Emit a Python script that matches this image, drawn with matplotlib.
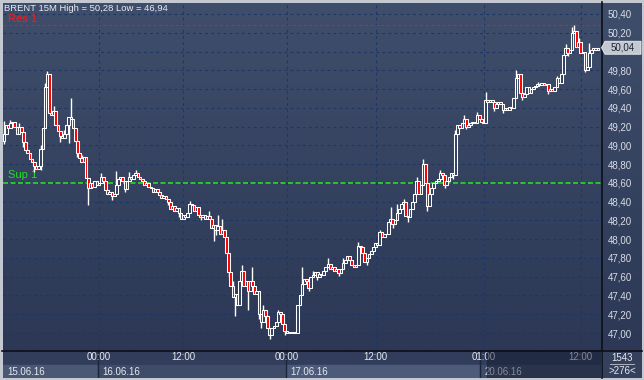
import matplotlib
matplotlib.use('Agg')
import matplotlib.pyplot as plt
import numpy as np
from matplotlib.patches import Rectangle, Polygon
from matplotlib.lines import Line2D

# ------------------------------------------------ data ------------------------------------------------
symbol = 'BRENT 15M'
high_label = '50,28'
low_label = '46,94'
res_level = 50.28
sup_level = 48.60
last_price = 50.04
first_open = 49.05

closes = [
    49.12, 49.22, 49.18, 49.24, 49.25, 49.20, 49.12, 49.20, 49.14, 49.04,
    48.95, 48.92, 48.85, 48.82, 48.78, 48.75, 48.78, 48.96, 49.18, 49.62,
    49.76, 49.35, 49.32, 49.37, 49.22, 49.15, 49.10, 49.08, 49.12, 49.22,
    49.30, 49.28, 49.18, 49.05, 48.92, 48.86, 48.82, 48.88, 48.65, 48.55,
    48.60, 48.56, 48.62, 48.58, 48.60, 48.66, 48.62, 48.52, 48.48, 48.50,
    48.46, 48.48, 48.58, 48.64, 48.66, 48.62, 48.54, 48.62, 48.66, 48.64,
    48.68, 48.70, 48.66, 48.64, 48.62, 48.58, 48.60, 48.56, 48.55, 48.50,
    48.53, 48.50, 48.47, 48.44, 48.46, 48.43, 48.40, 48.32, 48.35, 48.30,
    48.33, 48.28, 48.22, 48.26, 48.24, 48.28, 48.38, 48.36, 48.30, 48.34,
    48.26, 48.24, 48.26, 48.22, 48.25, 48.22, 48.12, 48.15, 48.10, 48.14,
    48.05, 48.10, 48.02, 47.85, 47.65, 47.50, 47.38, 47.42, 47.30, 47.55,
    47.66, 47.50, 47.55, 47.45, 47.55, 47.50, 47.42, 47.45, 47.20, 47.12,
    47.25, 47.18, 47.05, 46.98, 47.05, 47.08, 47.12, 47.22, 47.20, 47.10,
    47.02, 47.00, 47.01, 47.00, 47.01, 47.00, 47.30, 47.40, 47.52, 47.58,
    47.55, 47.48, 47.60, 47.62, 47.65, 47.60, 47.63, 47.62, 47.66, 47.70,
    47.74, 47.68, 47.70, 47.66, 47.68, 47.64, 47.68, 47.75, 47.78, 47.82,
    47.78, 47.72, 47.70, 47.72, 47.93, 47.92, 47.85, 47.76, 47.80, 47.84,
    47.87, 47.92, 47.96, 47.94, 48.08, 48.02, 48.06, 48.05, 48.18, 48.22,
    48.16, 48.20, 48.28, 48.32, 48.38, 48.40, 48.25, 48.24, 48.32, 48.40,
    48.48, 48.62, 48.48, 48.58, 48.80, 48.60, 48.35, 48.48, 48.55, 48.60,
    48.62, 48.64, 48.70, 48.68, 48.58, 48.62, 48.66, 48.70, 48.68, 49.12,
    49.22, 49.18, 49.24, 49.28, 49.20, 49.22, 49.24, 49.25, 49.24, 49.32,
    49.28, 49.25, 49.24, 49.48, 49.46, 49.48, 49.46, 49.40, 49.44, 49.46,
    49.44, 49.38, 49.40, 49.38, 49.41, 49.40, 49.50, 49.72, 49.76, 49.56,
    49.52, 49.55, 49.62, 49.56, 49.60, 49.62, 49.63, 49.65, 49.64, 49.66,
    49.64, 49.65, 49.58, 49.60, 49.58, 49.62, 49.72, 49.66, 49.76, 49.96,
    50.04, 49.98, 50.02, 50.20, 50.22, 50.05, 50.10, 49.98, 50.00, 49.80,
    49.84, 49.98, 50.02, 50.04, 50.02, 50.04,
]

# explicit wick extremes (bar index -> price)
wick_highs = {0: 49.26, 3: 49.27, 7: 49.24, 17: 49.00, 19: 49.66, 20: 49.79, 23: 49.42,
              28: 49.16, 31: 49.50, 36: 48.90, 45: 48.70, 52: 48.73, 58: 48.72, 61: 48.74,
              86: 48.41, 95: 48.30, 99: 48.26, 101: 48.22, 106: 47.55, 110: 47.72, 115: 47.70,
              120: 47.30, 127: 47.25, 138: 47.70, 143: 47.66, 150: 47.80, 157: 47.80,
              164: 47.97, 174: 48.10, 179: 48.34, 182: 48.38, 185: 48.43, 191: 48.66,
              194: 48.85, 202: 48.74, 209: 49.16, 213: 49.32, 219: 49.36, 223: 49.57,
              237: 49.80, 247: 49.68, 256: 49.74, 260: 50.08, 263: 50.26, 264: 50.28,
              266: 50.14, 271: 50.09}
wick_lows = {0: 49.01, 9: 48.98, 14: 48.72, 17: 48.74, 26: 49.04, 30: 49.03, 34: 48.88,
             39: 48.36, 50: 48.42, 56: 48.50, 76: 48.36, 81: 48.24, 91: 48.20, 97: 47.98,
             98: 48.04, 104: 47.60, 107: 47.18, 113: 47.25, 118: 47.15, 119: 47.05,
             123: 46.94, 130: 46.98, 141: 47.45, 145: 47.57, 155: 47.61, 168: 47.72,
             180: 48.12, 187: 48.18, 196: 48.30, 204: 48.55, 208: 48.64, 214: 49.17,
             227: 49.37, 231: 49.35, 240: 49.48, 252: 49.55, 261: 49.95, 269: 49.78,
             270: 49.80}

price_ticks = [47.00, 47.20, 47.40, 47.60, 47.80, 48.00, 48.20, 48.40, 48.60,
               48.80, 49.00, 49.20, 49.40, 49.60, 49.80, 50.00, 50.20, 50.40]
time_tick_bars = [44, 83, 131, 172, 222, 267]
time_tick_labels = ['00:00', '12:00', '00:00', '12:00', '01:00', '12:00']
day_start_bars = [0, 44, 131, 221]
day_labels = ['15.06.16', '16.06.16', '17.06.16', '20.06.16']
bars_total = '1543'
bars_visible = '>276<'

# ------------------------------------------------ build OHLC ------------------------------------------------
closes = np.array(closes)
n = len(closes)
x = np.arange(n)
opens = np.concatenate([[first_open], closes[:-1]])
highs = np.maximum(opens, closes)
lows = np.minimum(opens, closes)
for k, v in wick_highs.items():
    highs[k] = max(highs[k], v)
for k, v in wick_lows.items():
    lows[k] = min(lows[k], v)

W, H = 644, 380
def fx(px):
    return px / W
def fy(py):
    return 1 - py / H

fig = plt.figure(figsize=(6.44, 3.80), dpi=100)
fig.patch.set_facecolor('#c4c8d0')
font = 'Liberation Sans'

bg_top = np.array([63, 78, 107]) / 255
bg_bot = np.array([44, 56, 85]) / 255
grad = np.linspace(0, 1, 256)[:, None, None]
grad_img = bg_top * (1 - grad) + bg_bot * grad

# right price panel background
ax_r = fig.add_axes([fx(601), fy(350), fx(642) - fx(601), fy(3) - fy(350)])
ax_r.imshow(grad_img, aspect='auto', extent=[0, 1, 0, 1], transform=ax_r.transAxes)
ax_r.set_axis_off()
ax_r.set_zorder(1)

# main chart
ax = fig.add_axes([fx(3), fy(350), fx(601) - fx(3), fy(3) - fy(350)])
ax.set_zorder(2)
ax.patch.set_visible(False)
ax.imshow(grad_img, aspect='auto', extent=[0, 1, 0, 1], transform=ax.transAxes, zorder=0)

px_per_bar = 2.16
ax.set_xlim(-1 / px_per_bar, (n - 1) + 3 / px_per_bar)
ax.set_ylim(46.819, 50.517)

def ay(py):
    return (fy(py) - fy(350)) / (fy(3) - fy(350))

grid_col = '#1c3766'
for p in price_ticks:
    ax.axhline(p, color=grid_col, lw=0.8, ls=(0, (2.5, 3)), zorder=1)
for b in time_tick_bars:
    ax.axvline(b, color=grid_col, lw=0.8, ls=(0, (2.5, 3)), zorder=1)

ax.axhline(res_level, color='#d42020', lw=0.8, ls=(0, (3, 2)), zorder=2)
ax.axhline(sup_level, color='#22e022', lw=1.2, ls=(0, (3, 1.5)), zorder=2)

down = closes < opens
face = np.where(down, '#ff0000', '#34425f')
ax.text(0.009, ay(175), 'Sup 1', color='#22e022',
        fontsize=8, family=font, va='center', ha='left', transform=ax.transAxes, zorder=2)
ax.text(0.009, ay(19), 'Res 1', color='#ff1a1a',
        fontsize=8, family=font, va='center', ha='left', transform=ax.transAxes, zorder=2)

ax.vlines(x, lows, highs, color='white', lw=1.0, zorder=3)
ax.bar(x, np.maximum(np.abs(closes - opens), 0.004), bottom=np.minimum(opens, closes),
       width=1.25, color=face, edgecolor='white', linewidth=0.75, zorder=4)

ax.text(0.002, ay(8.5),
        f'{symbol} High = {high_label} Low = {low_label}', color='#e8ecf4', fontsize=6.8,
        family=font, va='center', ha='left', transform=ax.transAxes, zorder=6)

# the 50,00 label is covered by the last price marker in the reference
labels = [f'{p:.2f}'.replace('.', ',') for p in price_ticks]
labels = ['' if abs(p - last_price) < 0.1 else l for p, l in zip(price_ticks, labels)]
ax.yaxis.tick_right()
ax.set_yticks(price_ticks)
ax.set_yticklabels(labels)
ax.tick_params(axis='y', length=0, pad=5, labelcolor='#d8dce6', labelsize=7)
for lab in ax.get_yticklabels():
    lab.set_family(font)
ax.set_xticks([])
for s in ax.spines.values():
    s.set_visible(False)

# ------------------------------------------------ time strip ------------------------------------------------
ax_t = fig.add_axes([fx(3), fy(378), fx(601) - fx(3), fy(350) - fy(378)])
ax_t.set_xlim(ax.get_xlim())
ax_t.set_ylim(0, 2)
ax_t.set_axis_off()
ax_t.add_patch(Rectangle((ax.get_xlim()[0], 1), n + 2, 1, color='#313d5a', zorder=0))
day_cols = ['#4a5876', '#3f4c69', '#4c5b79', '#3f4c69']
day_ends = day_start_bars[1:] + [n + 2]
for s, e, lab, c in zip(day_start_bars, day_ends, day_labels, day_cols):
    left = s - 0.5 if s > 0 else ax.get_xlim()[0]
    ax_t.add_patch(Rectangle((left, 0), e - 0.5 - left, 0.95, color=c, zorder=1))
    if s > 0:
        ax_t.plot([s - 0.5, s - 0.5], [0, 2], color='#1c2438', lw=1, zorder=2)
    ax_t.text(left + 2.2, 0.45, lab, color='#e6e9f0', fontsize=7, family=font,
              va='center', ha='left', zorder=3)
for b, lab in zip(time_tick_bars, time_tick_labels):
    ax_t.text(b, 1.5, lab, color='#e6e9f0', fontsize=7, family=font,
              va='center', ha='center', zorder=3)
ax_t.add_patch(Rectangle((223.5, 0), n + 2, 2, color='#10162a', alpha=0.45, zorder=5))

# bottom right box
ax_c = fig.add_axes([fx(602), fy(378), fx(642) - fx(602), fy(350) - fy(378)])
ax_c.set_xlim(0, 1)
ax_c.set_ylim(0, 2)
ax_c.set_axis_off()
ax_c.add_patch(Rectangle((0, 0), 1, 2, color='#34405c'))
ax_c.text(0.5, 1.45, bars_total, color='#e6e9f0', fontsize=7, family=font, ha='center', va='center')
ax_c.text(0.5, 0.5, bars_visible, color='#e6e9f0', fontsize=7, family=font, ha='center', va='center')
ax_c.plot([0.2, 0.8], [1.0, 1.0], color='#c0c6d2', lw=0.6)

# separators
fig.add_artist(Line2D([fx(601.5), fx(601.5)], [fy(378), fy(2)], color='#0c0f18', lw=1.2))
fig.add_artist(Line2D([fx(2), fx(642)], [fy(350.5), fy(350.5)], color='#0c0f18', lw=1.2))

# last price marker
yl = fy(3) + (last_price - 50.517) / (50.517 - 46.819) * (fy(3) - fy(350))
h = 6.5 / H
box = Polygon([(fx(601.5), yl), (fx(605), yl + h), (fx(641), yl + h), (fx(641), yl - h), (fx(605), yl - h)],
              closed=True, facecolor='#c4c8d0', edgecolor='#e8ebf0', lw=0.6, zorder=10)
fig.add_artist(box)
fig.text(fx(623), yl, f'{last_price:.2f}'.replace('.', ','), color='#1c2436', fontsize=7,
         family=font, ha='center', va='center', zorder=11)

plt.savefig('out.png', dpi=100, facecolor=fig.get_facecolor())
